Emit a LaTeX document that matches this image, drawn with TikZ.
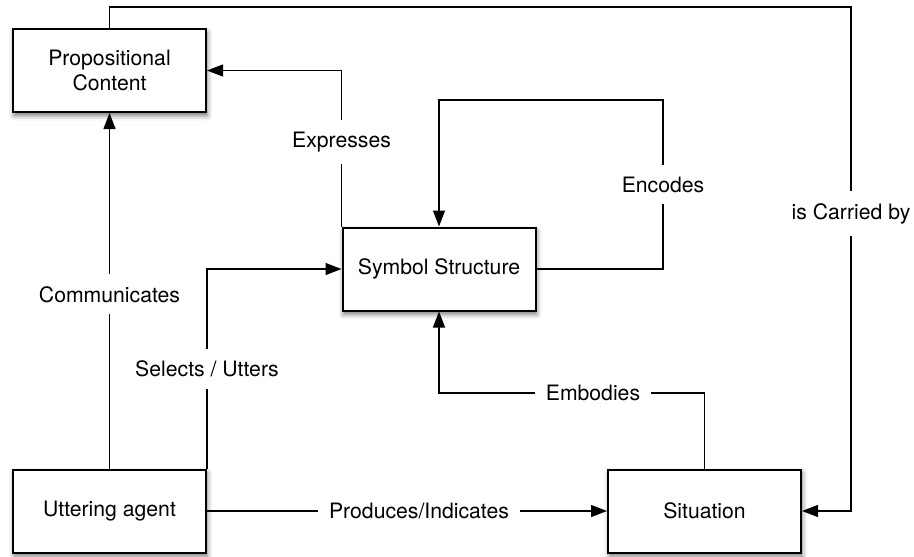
\documentclass[tikz,border=0pt]{standalone}
\usepackage{fontspec}
\setmainfont{TeX Gyre Heros}
\usepackage{tikz}
\usetikzlibrary{positioning,arrows.meta,shadows.blur}

\begin{document}
\begin{tikzpicture}[x=0.5pt, y=-0.5pt, >={Triangle[length=8pt,width=6pt]},
  font=\fontsize{10.6}{12.5}\selectfont, line width=0.65pt,
  box/.style={draw, line width=1pt, fill=white, align=center, minimum width=96.5pt, minimum height=41.5pt,
    blur shadow={shadow xshift=0.6pt, shadow yshift=-1.8pt, shadow blur radius=2.5pt, shadow opacity=55}},
  lbl/.style={fill=white, inner xsep=5.5pt, inner ysep=6pt}]
\useasboundingbox (0,0) rectangle (914,556);
\node[box] (prop) at (109.5,70.5) {Propositional\\Content};
\node[box] (sym) at (439,269) {Symbol Structure};
\node[box] (utter) at (109.5,511) {Uttering agent};
\node[box] (sit) at (704.5,511) {Situation};
\coordinate (ctop) at (851,7);
\coordinate (enc) at (663,100);
\coordinate (emb) at (439,393);
\draw[->] (prop.north) |- (ctop) -- node[lbl, pos=0.41] {is Carried by} (ctop |- sit.east) -- (sit.east);
\draw[->] (sym.north west) |- node[lbl, pos=0.27] {Expresses} (prop.east);
\draw[->] (sym.east) -| node[lbl, pos=0.75] {Encodes} (enc) -| (sym.north);
\draw[->] (utter.north) -- node[lbl, pos=0.49] {Communicates} (prop.south);
\draw[->] (utter.north east) |- node[lbl, pos=0.25] {Selects / Utters} (sym.west);
\draw[->] (utter.east) -- node[lbl, pos=0.53] {Produces/Indicates} (sit.west);
\draw[->] (sit.north) |- node[lbl, pos=0.71] {Embodies} (emb) -- (sym.south);
\end{tikzpicture}
\end{document}
